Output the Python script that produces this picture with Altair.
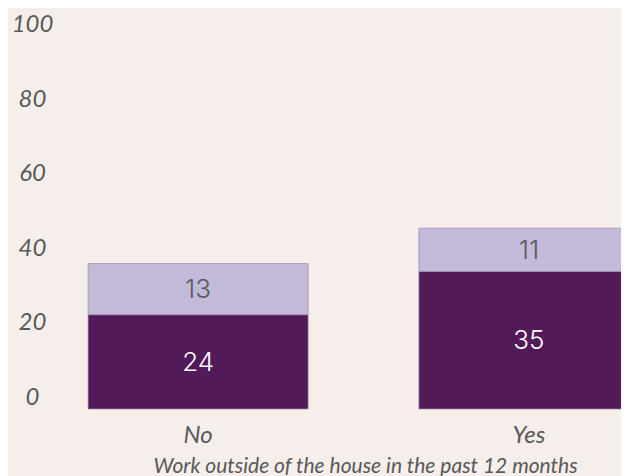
import altair as alt
import pandas as pd

categories = ["No", "Yes"]
dark_values = [24, 35]
light_values = [13, 11]
tick_values = [0, 20, 40, 60, 80, 100]

rows = []
for c, d, l in zip(categories, dark_values, light_values):
    rows.append({"category": c, "segment": "dark", "value": d, "ord": 0})
    rows.append({"category": c, "segment": "light", "value": l, "ord": 1})
df = pd.DataFrame(rows)
ticks_df = pd.DataFrame({"v": tick_values})

DARK = "#521a58"
LIGHT = "#c3b9d9"
GRAY = "#595959"

x_scale = alt.Scale(range=[0, 607], paddingInner=0.335, paddingOuter=0.085)

x_enc = alt.X(
    "category:N",
    sort=categories,
    scale=x_scale,
    axis=alt.Axis(
        title="Work outside of the house in the past 12 months",
        labelAngle=0,
        labelFont="Lato",
        labelFontStyle="italic",
        labelFontSize=24,
        labelColor=GRAY,
        labelPadding=14,
        titleFont="Lato",
        titleFontStyle="italic",
        titleFontSize=21,
        titleFontWeight="normal",
        titleColor=GRAY,
        titlePadding=8,
        titleX=305,
        titleAnchor="middle",
        domain=False,
        ticks=False,
        grid=False,
    ),
)

base = alt.Chart(df).transform_stack(
    stack="value", groupby=["category"], as_=["y0", "y1"], sort=[alt.SortField("ord")]
).transform_calculate(mid="(datum.y0 + datum.y1) / 2")

bars = base.mark_bar(stroke="#9f86ad", strokeWidth=1, strokeOpacity=0.7).encode(
    x=x_enc,
    y=alt.Y("y0:Q", scale=alt.Scale(domain=[0, 100], nice=False), axis=None),
    y2="y1:Q",
    color=alt.Color(
        "segment:N",
        scale=alt.Scale(domain=["dark", "light"], range=[DARK, LIGHT]),
        legend=None,
    ),
)

labels = base.mark_text(
    font="Inter", fontSize=26, fontWeight=300, baseline="middle", align="center", dy=1
).encode(
    x=alt.X("category:N", sort=categories),
    y=alt.Y("mid:Q", scale=alt.Scale(domain=[0, 100], nice=False), axis=None),
    text=alt.Text("value:Q", format="d"),
    color=alt.Color(
        "segment:N",
        scale=alt.Scale(domain=["dark", "light"], range=["#ffffff", GRAY]),
        legend=None,
    ),
)

bar_layer = alt.layer(bars, labels).resolve_scale(color="independent")

axis_layer = alt.Chart(ticks_df).mark_point(opacity=0).encode(
    y=alt.Y(
        "v:Q",
        scale=alt.Scale(domain=[-3.2, 102.3], nice=False, zero=False),
        axis=alt.Axis(
            orient="left",
            values=tick_values,
            title=None,
            labelFont="Lato",
            labelFontStyle="italic",
            labelFontSize=24,
            labelColor=GRAY,
            labelAlign="center",
            labelBaseline="middle",
            labelPadding=28,
            tickSize=0,
            ticks=False,
            domain=False,
            grid=False,
        ),
    )
)

chart = (
    alt.layer(bar_layer, axis_layer)
    .resolve_scale(y="independent")
    .properties(
        width=561,
        height=393,
        background="#f5eeeb",
        padding={"left": 52, "top": 8, "right": 0, "bottom": 67},
        autosize=alt.AutoSizeParams(type="none"),
    )
    .configure_view(stroke=None)
)

chart.save("out.html", embed_options={"renderer": "svg", "actions": False})
